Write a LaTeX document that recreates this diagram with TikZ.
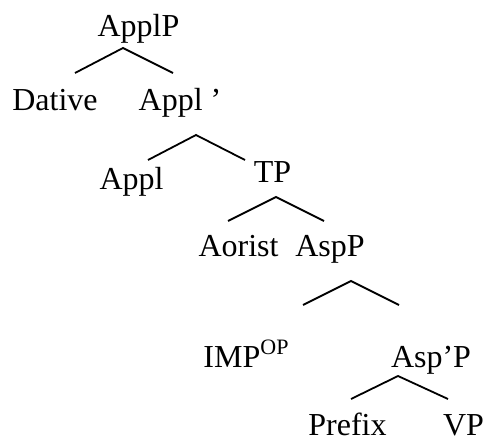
\documentclass[tikz,border=0pt]{standalone}
\usepackage{fontspec}
\setmainfont{Liberation Serif}
\begin{document}
\begin{tikzpicture}[x=1bp,y=-1bp,
  lbl/.style={anchor=base,inner sep=0pt,outer sep=0pt,font=\fontsize{32bp}{38bp}\selectfont},
  branch/.style={line width=1.8bp,line cap=butt,line join=miter}]
\useasboundingbox (0,0) rectangle (485,443);
% labels
\node[lbl] (applp) at (138.5,37) {ApplP};
\node[lbl] (dative) at (55,111) {Dative};
\node[lbl] (applbar) at (180,111) {Appl ’};
\node[lbl] (appl) at (131.5,190) {Appl};
\node[lbl] (tp) at (272.5,183) {TP};
\node[lbl] (aorist) at (238.5,256) {Aorist};
\node[lbl] (aspp) at (330,256) {AspP};
\node[lbl] (imp) at (246,367) {IMP\raisebox{13bp}{\fontsize{22bp}{22bp}\selectfont OP}};
\node[lbl] (aspbarp) at (431,367) {Asp’P};
\node[lbl] (prefix) at (347.5,435) {Prefix};
\node[lbl] (vp) at (463.5,435) {VP};
% branch points
\coordinate (t1) at (123,48);  \coordinate (l1) at (75,73);   \coordinate (r1) at (173,73);
\coordinate (t2) at (196,135); \coordinate (l2) at (148,160); \coordinate (r2) at (245,160);
\coordinate (t3) at (276,197); \coordinate (l3) at (228,221); \coordinate (r3) at (324,221);
\coordinate (t4) at (351,281); \coordinate (l4) at (303,305); \coordinate (r4) at (399,305);
\coordinate (t5) at (398,376); \coordinate (l5) at (351,399); \coordinate (r5) at (448,399);
\draw[branch] (l1) -- (t1) -- (r1);
\draw[branch] (l2) -- (t2) -- (r2);
\draw[branch] (l3) -- (t3) -- (r3);
\draw[branch] (l4) -- (t4) -- (r4);
\draw[branch] (l5) -- (t5) -- (r5);
\end{tikzpicture}
\end{document}
